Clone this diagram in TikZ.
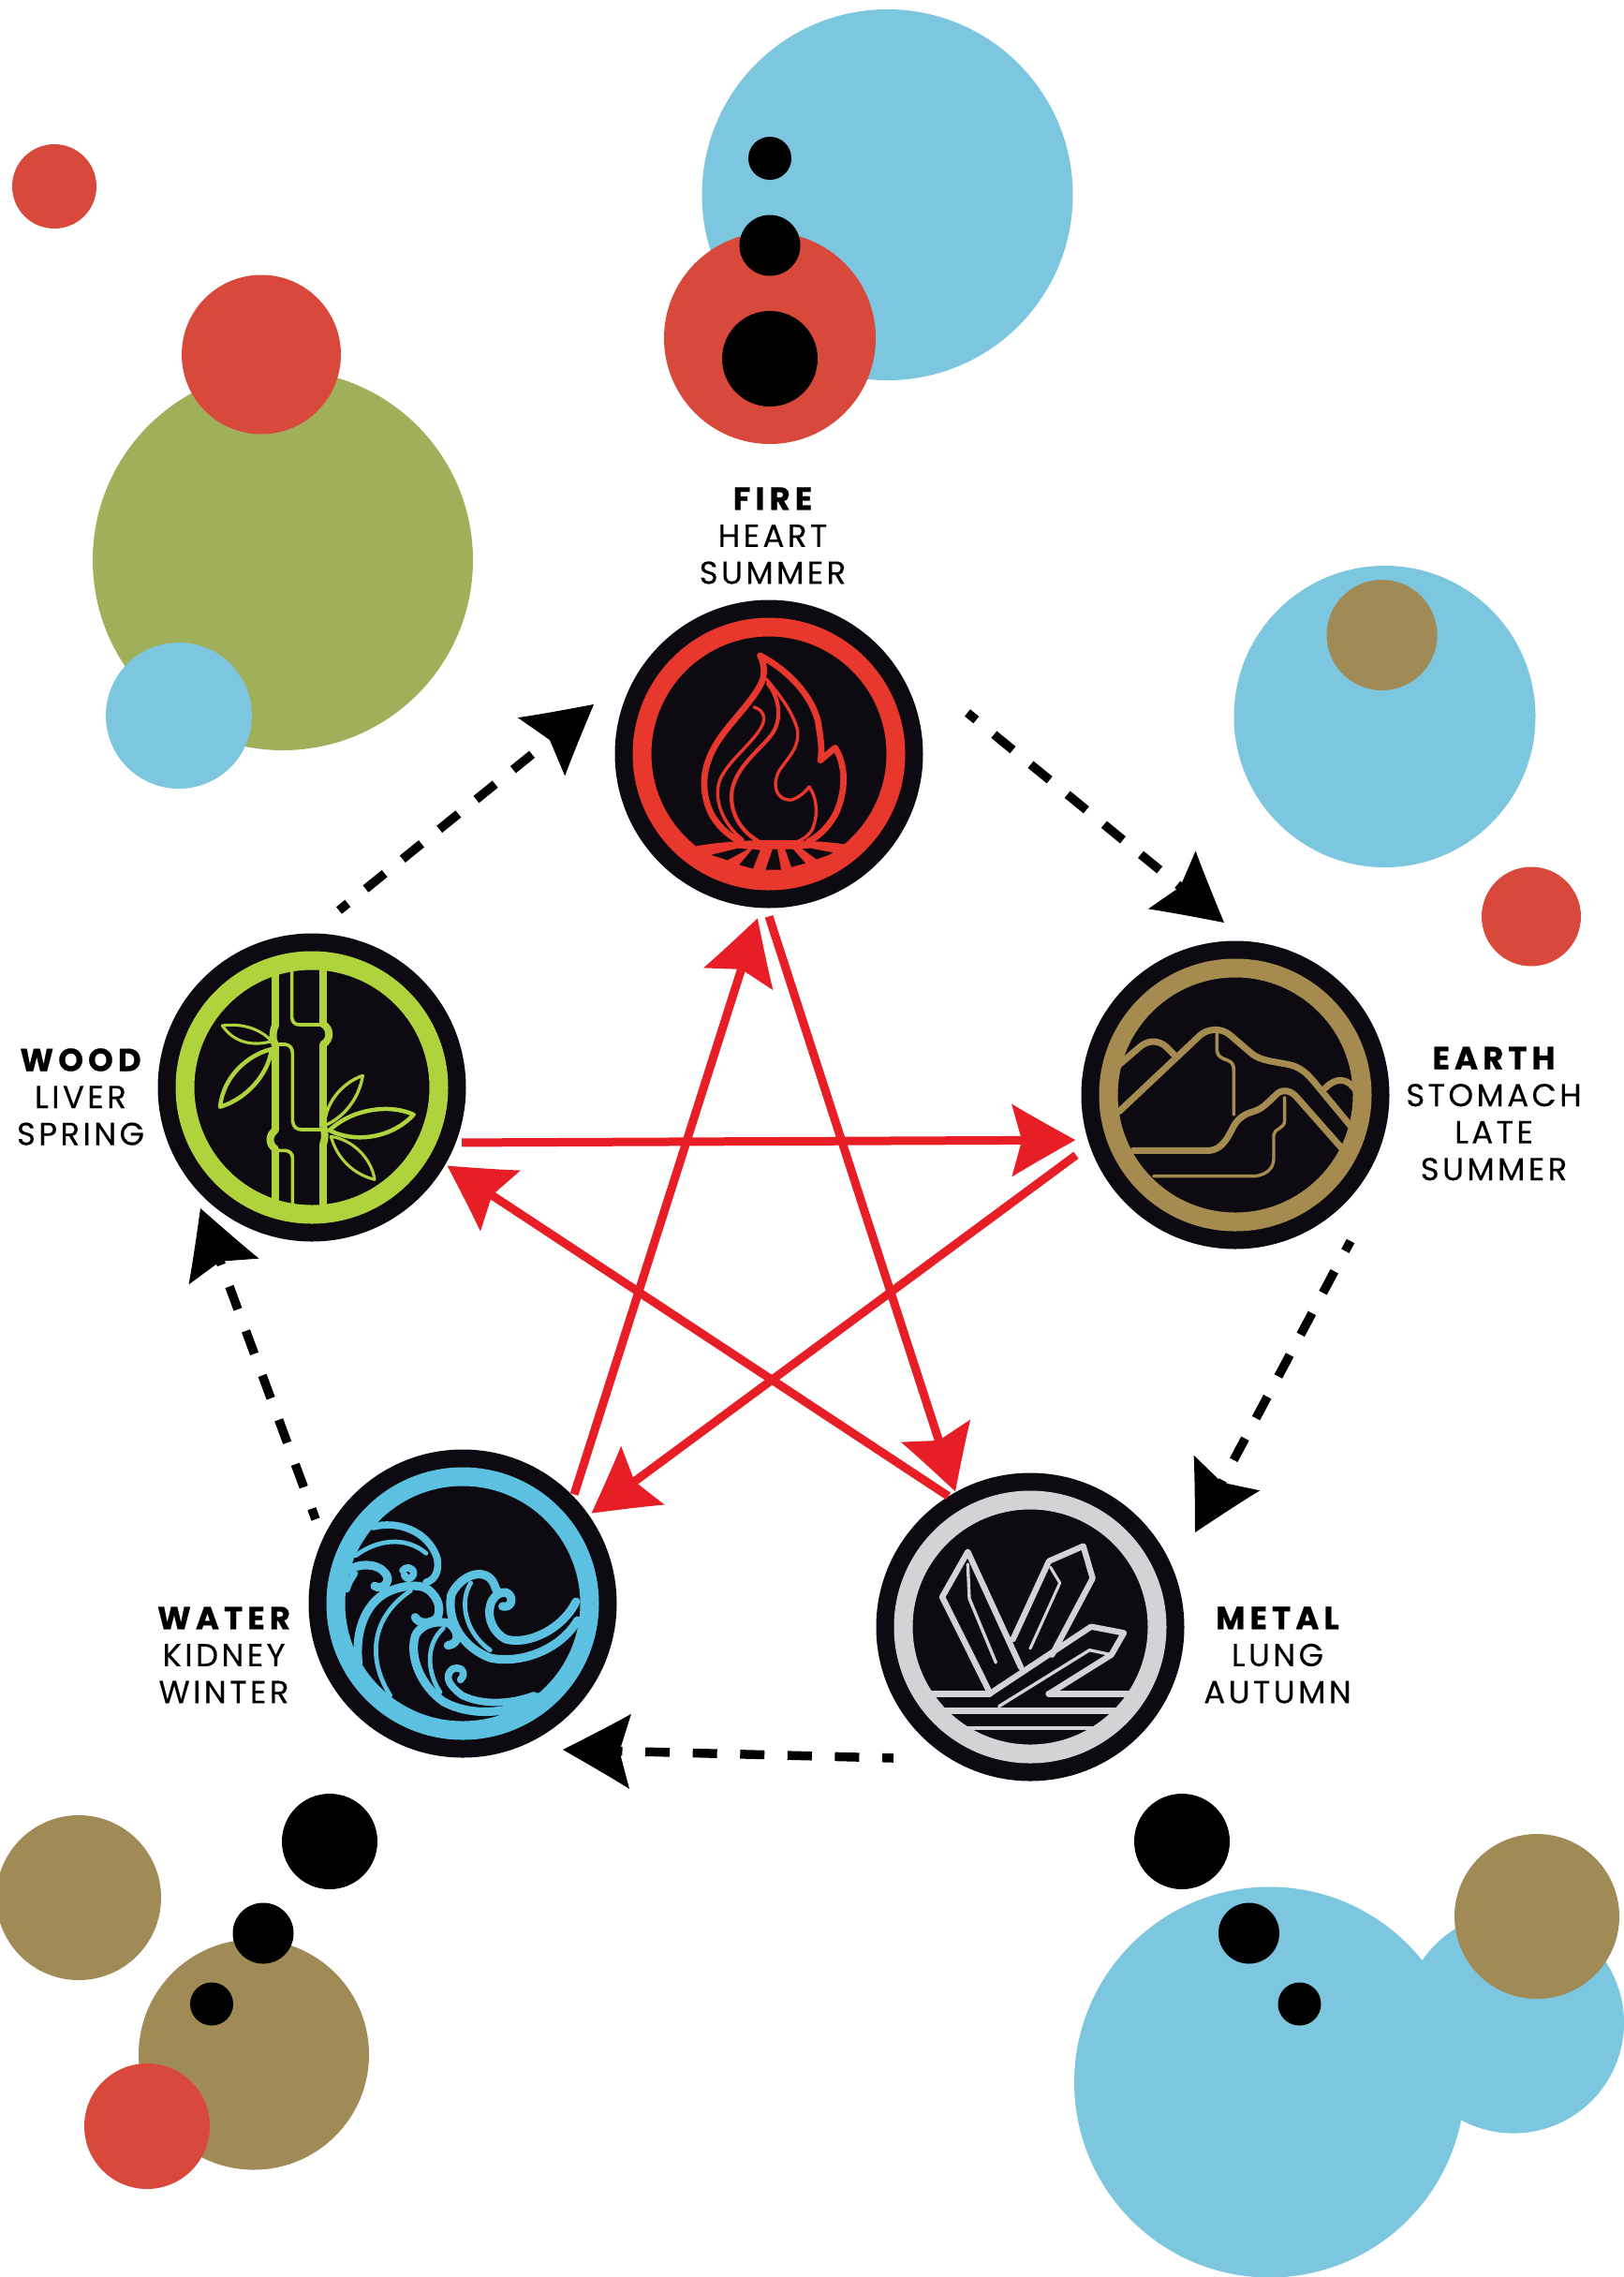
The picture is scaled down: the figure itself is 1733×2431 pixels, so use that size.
\documentclass[tikz,border=0pt]{standalone}
\usepackage{fontspec}
\setmainfont[LetterSpace=10,FakeBold=0.25,BoldFeatures={LetterSpace=15,FakeBold=0.7}]{Poppins}
\usetikzlibrary{arrows.meta}
\pgfdeclarearrow{
  name=Dart,
  setup code={
    \pgfarrowssettipend{0pt}
    \pgfarrowssetbackend{-\pgfarrowlength}
    \pgfarrowssetlineend{-.8\pgfarrowlength}
    \pgfarrowssavethe\pgfarrowlength
    \pgfarrowssavethe\pgfarrowwidth
  },
  drawing code={
    \pgfpathmoveto{\pgfpoint{0pt}{0pt}}
    \pgfpathcurveto{\pgfpoint{-.35\pgfarrowlength}{.17\pgfarrowwidth}}{\pgfpoint{-.7\pgfarrowlength}{.34\pgfarrowwidth}}{\pgfpoint{-\pgfarrowlength}{.5\pgfarrowwidth}}
    \pgfpathlineto{\pgfpoint{-.84\pgfarrowlength}{0pt}}
    \pgfpathlineto{\pgfpoint{-\pgfarrowlength}{-.5\pgfarrowwidth}}
    \pgfpathcurveto{\pgfpoint{-.7\pgfarrowlength}{-.34\pgfarrowwidth}}{\pgfpoint{-.35\pgfarrowlength}{-.17\pgfarrowwidth}}{\pgfpoint{0pt}{0pt}}
    \pgfpathclose
    \pgfusepathqfill
  },
  parameters={\the\pgfarrowlength,\the\pgfarrowwidth},
  defaults={length=70pt,width=80pt}
}
\definecolor{dotblue}{HTML}{7CC6DF}
\definecolor{dotred}{HTML}{D8483B}
\definecolor{dotgreen}{HTML}{A0B05A}
\definecolor{dotbrown}{HTML}{A08A55}
\definecolor{discblack}{HTML}{0E0A12}
\definecolor{firered}{HTML}{E8372D}
\definecolor{woodgreen}{HTML}{B0D23C}
\definecolor{earthgold}{HTML}{A58B50}
\definecolor{waterblue}{HTML}{5CC0E0}
\definecolor{metalgrey}{HTML}{D2D3D5}
\definecolor{linkred}{HTML}{E81E26}
\tikzset{
  emblem/.style={circle,fill=discblack,minimum size=329pt,inner sep=0pt,outer sep=0pt},
  ringline/.style={line width=20pt},
  caption/.style={align=center,inner sep=0pt,text=black,font=\fontsize{34}{39.5}\selectfont},
  redlink/.style={draw=linkred,line width=9pt,-{Dart[length=68pt,width=78pt]}},
  blacklink/.style={draw=black,line width=9.5pt,dash pattern=on 26pt off 24.6pt,dash phase=14pt,-{Dart[length=72pt,width=80pt]}},
  thick line/.style={line width=#1*1.4pt,line join=round,line cap=round},
}
\begin{document}
\begin{tikzpicture}[x=1pt,y=-1pt]
\useasboundingbox (0,0) rectangle (1733,2431);
\fill[white] (0,0) rectangle (1733,2431);
% decorative circles
\fill[dotblue] (947.5,208) circle[radius=198];
\fill[dotred] (822,361) circle[radius=113];
\fill[black] (822,169) circle[radius=23];
\fill[black] (822,262) circle[radius=32.5];
\fill[black] (822,383) circle[radius=51];
\fill[dotred] (58,199) circle[radius=45];
\fill[dotgreen] (302,598) circle[radius=203];
\fill[dotred] (279,378.5) circle[radius=85];
\fill[dotblue] (191,764) circle[radius=78];
\fill[dotblue] (1478.5,765) circle[radius=161];
\fill[dotbrown] (1475.5,678) circle[radius=59];
\fill[dotred] (1635,978.5) circle[radius=53];
\fill[dotbrown] (84,2026) circle[radius=88];
\fill[black] (352,1966) circle[radius=51];
\fill[dotbrown] (271,2193.5) circle[radius=123];
\fill[black] (281,2064) circle[radius=32.5];
\fill[black] (226,2139.5) circle[radius=23];
\fill[dotred] (157,2270) circle[radius=67];
\fill[dotblue] (1355.5,2223) circle[radius=208.5];
\fill[dotblue] (1616,2159.5) circle[radius=118];
\fill[dotbrown] (1641,2046) circle[radius=88];
\fill[black] (1262,1966) circle[radius=51];
\fill[black] (1333.5,2064) circle[radius=32.5];
\fill[black] (1387.5,2139.5) circle[radius=23];
% emblem discs
\node[emblem] (fire) at (821,805) {};
\node[emblem] (wood) at (333,1161) {};
\node[emblem] (earth) at (1319,1169) {};
\node[emblem] (water) at (494,1712) {};
\node[emblem] (metal) at (1100,1737) {};
% FIRE icon
\begin{scope}[shift={(630,490)},x=0.33333pt,y=-0.33333pt,firered]
\draw[thick line=4.8] (545,630) .. controls (640,680) and (710,760) .. (730,840) .. controls (738,890) and (745,930) .. (738,965) -- (785,925) .. controls (820,980) and (820,1060) .. (790,1130) .. controls (770,1170) and (740,1205) .. (700,1225);
\draw[thick line=4.8] (545,630) .. controls (560,660) and (560,690) .. (550,715) .. controls (520,780) and (440,850) .. (400,920) .. controls (360,990) and (355,1060) .. (385,1130) .. controls (405,1170) and (440,1205) .. (480,1225);
\draw[thick line=2.4] (565,705) .. controls (610,760) and (650,810) .. (665,870) .. controls (670,930) and (630,960) .. (605,1000) .. controls (580,1050) and (600,1095) .. (645,1092) .. controls (670,1085) and (690,1065) .. (702,1050) .. controls (730,1090) and (730,1150) .. (710,1190) .. controls (695,1210) and (680,1220) .. (665,1225);
\draw[thick line=2.4] (525,795) .. controls (560,805) and (565,835) .. (545,865) .. controls (510,920) and (440,970) .. (415,1030) .. controls (395,1090) and (425,1170) .. (490,1220);
\draw[thick line=3] (570,720) .. controls (610,770) and (615,840) .. (580,885) .. controls (540,935) and (470,985) .. (455,1060) .. controls (445,1130) and (480,1190) .. (540,1225);
\begin{scope}
\clip (574,945) circle[radius=400];
\fill (340,1240) .. controls (480,1215) and (680,1215) .. (825,1235) -- (800,1380) -- (360,1380) -- cycle;
\end{scope}
\fill[discblack] (388,1268) -- (475,1247) -- (505,1250) -- (440,1285) -- cycle;
\fill[discblack] (478,1300) -- (520,1250) -- (545,1253) -- (522,1312) -- cycle;
\fill[discblack] (562,1316) -- (585,1250) -- (600,1250) -- (612,1316) -- cycle;
\fill[discblack] (645,1307) -- (625,1250) -- (650,1250) -- (690,1295) -- cycle;
\fill[discblack] (725,1282) -- (680,1249) -- (705,1247) -- (785,1262) -- cycle;
\end{scope}
\draw[firered,ringline] (fire) circle[radius=135.5];
% WOOD icon
\begin{scope}[shift={(150,980)},x=0.33333pt,y=-0.33333pt,woodgreen]
\draw[thick line=5.6] (432,160) -- (432,345) .. controls (425,355) and (420,390) .. (432,405) -- (432,680) .. controls (410,695) and (410,725) .. (432,740) -- (432,925);
\draw[thick line=5.6] (585,160) -- (585,340) .. controls (610,355) and (610,390) .. (585,405) -- (585,665) .. controls (592,690) and (592,710) .. (585,725) -- (585,925);
\draw[thick line=2.6] (485,160) -- (485,320) .. controls (487,335) and (495,342) .. (510,342) -- (585,342);
\draw[thick line=2.6] (440,405) -- (465,405) .. controls (480,408) and (487,418) .. (487,435) -- (487,650) .. controls (490,670) and (500,678) .. (515,678) -- (585,678);
\draw[thick line=2.6] (440,745) -- (465,745) .. controls (480,748) and (487,755) .. (487,770) -- (487,915);
\draw[thick line=2.2] (262,345) .. controls (330,335) and (390,360) .. (420,395) .. controls (360,412) and (300,400) .. cycle;
\draw[thick line=3.2] (255,605) .. controls (265,510) and (340,440) .. (420,420) .. controls (410,500) and (340,580) .. cycle;
\draw[thick line=2.4] (712,505) .. controls (640,530) and (590,600) .. (590,665) .. controls (650,640) and (700,580) .. cycle;
\draw[thick line=3.2] (875,630) .. controls (800,595) and (680,610) .. (605,680) .. controls (680,720) and (800,710) .. cycle;
\draw[thick line=2.2] (750,838) .. controls (740,770) and (680,710) .. (610,700) .. controls (630,770) and (680,820) .. cycle;
\end{scope}
\draw[woodgreen,ringline] (wood) circle[radius=135.5];
% EARTH icon
\begin{scope}[shift={(1140,990)},x=0.33333pt,y=-0.33333pt,earthgold]
\draw[thick line=5] (165,440) -- (235,380) .. controls (265,358) and (295,365) .. (315,382) -- (345,412);
\draw[thick line=5] (165,590) -- (425,345) .. controls (450,325) and (490,320) .. (520,345) -- (590,405) .. controls (620,428) and (660,430) .. (700,438) .. controls (740,445) and (760,462) .. (785,490) -- (905,635);
\draw[thick line=5] (825,515) .. controls (860,480) and (895,480) .. (925,525);
\draw[thick line=2.6] (478,340) -- (478,395) .. controls (480,415) and (495,420) .. (510,425) .. controls (528,432) and (532,440) .. (532,460) -- (532,600);
\draw[thick line=5] (210,715) -- (455,715) .. controls (490,712) and (510,680) .. (525,650) .. controls (540,615) and (565,598) .. (595,590) .. controls (630,580) and (650,550) .. (675,530) .. controls (695,518) and (715,525) .. (730,540) -- (880,710);
\draw[thick line=2.4] (275,797) -- (600,797) .. controls (640,792) and (660,770) .. (660,740) -- (660,665) .. controls (660,645) and (695,645) .. (695,620) -- (695,545);
\end{scope}
\draw[earthgold,ringline] (earth) circle[radius=135.5];
% WATER icon
\begin{scope}[shift={(310,1530)},x=0.33333pt,y=-0.33333pt,waterblue]
\draw[thick line=5.5] (265,300) .. controls (340,280) and (440,310) .. (470,400) .. controls (478,440) and (465,470) .. (435,478);
\draw[thick line=3.4] (210,392) .. controls (280,340) and (370,330) .. (435,385);
\draw[thick line=6.5] (185,440) .. controls (230,410) and (300,420) .. (312,465) .. controls (312,490) and (285,502) .. (270,490);
\draw[thick line=5.5] (360,440) .. controls (370,425) and (395,430) .. (395,450) .. controls (390,470) and (370,470) .. (365,455);
\draw[thick line=5.5] (180,500) .. controls (185,480) and (195,465) .. (205,450);
\draw[thick line=6.5] (218,740) .. controls (205,620) and (250,540) .. (310,510) .. controls (350,490) and (410,480) .. (440,500) .. controls (480,530) and (482,570) .. (470,592) .. controls (450,612) and (410,612) .. (400,590);
\draw[thick line=3.4] (320,840) .. controls (255,740) and (245,600) .. (385,505);
\draw[thick line=6.5] (920,600) .. controls (860,700) and (730,740) .. (640,720) .. controls (560,690) and (500,610) .. (515,520) .. controls (535,470) and (600,430) .. (640,465) .. controls (665,490) and (650,520) .. (690,510) .. controls (718,520) and (712,562) .. (680,555);
\draw[thick line=6.5] (915,540) .. controls (870,630) and (760,680) .. (690,660) .. controls (650,640) and (630,590) .. (640,555) .. controls (645,530) and (660,515) .. (680,510);
\draw[thick line=3.4] (578,480) .. controls (540,540) and (560,640) .. (640,695);
\draw[thick line=6.5] (790,845) .. controls (710,900) and (580,910) .. (490,860) .. controls (420,810) and (380,720) .. (400,650) .. controls (420,605) and (480,600) .. (510,610) .. controls (545,640) and (540,675) .. (505,680);
\draw[thick line=3.4] (480,830) .. controls (440,770) and (430,680) .. (490,625);
\draw[thick line=5.5] (780,840) .. controls (700,870) and (610,870) .. (550,840) .. controls (510,810) and (490,780) .. (520,755) .. controls (550,745) and (565,770) .. (545,790);
\end{scope}
\draw[waterblue,ringline] (water) circle[radius=135.5];
% METAL icon
\begin{scope}[shift={(920,1560)},x=0.33333pt,y=-0.33333pt,metalgrey]
\draw[thick line=4.5] (405,730) -- (258,435) -- (340,290) -- (510,660);
\draw[thick line=2.4] (340,330) -- (345,440) -- (430,645);
\draw[thick line=4.5] (485,570) -- (600,320) -- (710,272) -- (740,375) -- (610,620);
\draw[thick line=2.2] (605,340) -- (635,390) -- (540,600);
\draw[thick line=4.5] (410,745) -- (735,530) -- (840,550) -- (800,620) -- (600,745);
\draw[thick line=2.4] (440,785) -- (730,605) -- (800,620);
\draw[thick line=5.2] (225,745) -- (410,745);
\draw[thick line=5.2] (600,745) -- (860,745);
\draw[thick line=5.2] (270,800) -- (810,800);
\draw[thick line=2.8] (340,855) -- (750,855);
\end{scope}
\draw[metalgrey,ringline] (metal) circle[radius=135.5];
% captions
\node[caption] (fireText) at (825,572) {{\bfseries FIRE}\\HEART\\SUMMER};
\node[caption] (woodText) at (86,1171) {{\bfseries WOOD}\\LIVER\\SPRING};
\node[caption] (earthText) at (1595,1189) {{\bfseries EARTH}\\STOMACH\\LATE\\SUMMER};
\node[caption] (waterText) at (239,1767) {{\bfseries WATER}\\KIDNEY\\WINTER};
\node[caption] (metalText) at (1364,1767) {{\bfseries METAL}\\LUNG\\AUTUMN};
% red cycle
\draw[redlink,shorten <=6.6pt,shorten >=13.5pt] (wood.339.3) -- (earth.197.4);
\draw[redlink,shorten <=9.4pt,shorten >=0.9pt] (fire.269.1) -- (metal.119.9);
\draw[redlink,shorten <=2.4pt,shorten >=11.7pt] (water.44.9) -- (fire.267.8);
\draw[redlink,shorten <=18.1pt,shorten >=3.6pt] (earth.199.7) -- (water.35.8);
\draw[redlink,shorten <=0.3pt,shorten >=2.6pt] (metal.122.2) -- (wood.330.6);
% black cycle, free ends placed from the emblem centres
\coordinate (woodOut) at ([shift={(29,-189)}]wood.center);
\coordinate (fireIn) at ([shift={(-187,-53)}]fire.center);
\coordinate (fireOut) at ([shift={(212,-44)}]fire.center);
\coordinate (earthIn) at ([shift={(-12,-184)}]earth.center);
\coordinate (earthOut) at ([shift={(123,156)}]earth.center);
\coordinate (metalIn) at ([shift={(176,-101)}]metal.center);
\coordinate (metalOut) at ([shift={(-146,140)}]metal.center);
\coordinate (waterIn) at ([shift={(107,156)}]water.center);
\coordinate (waterOut) at ([shift={(-157,-90)}]water.center);
\coordinate (woodIn) at ([shift={(-119,129)}]wood.center);
\draw[blacklink] (woodOut) -- (fireIn);
\draw[blacklink] (fireOut) -- (earthIn);
\draw[blacklink] (earthOut) -- (metalIn);
\draw[blacklink] (metalOut) -- (waterIn);
\draw[blacklink] (waterOut) -- (woodIn);
\end{tikzpicture}
\end{document}
